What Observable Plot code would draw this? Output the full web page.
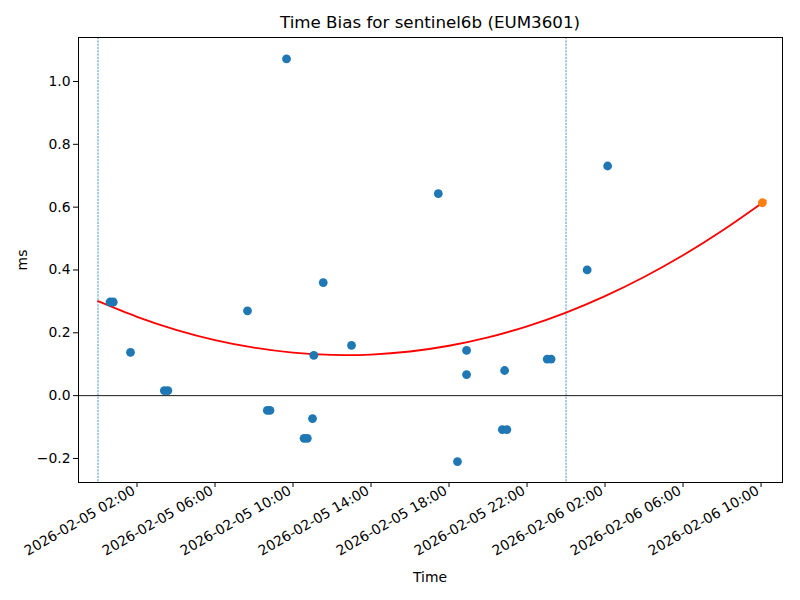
<!DOCTYPE html>
<html><head><meta charset="utf-8">
<script src="https://cdn.jsdelivr.net/npm/d3@7"></script>
<script src="https://cdn.jsdelivr.net/npm/@observablehq/plot@0.6"></script>
<style>
body{margin:0;background:#fff;font-family:"DejaVu Sans",sans-serif;}
#wrap{position:relative;width:800px;height:600px;}
#chart{position:absolute;left:0;top:0;}
#title{position:absolute;left:78px;width:704px;top:12px;text-align:center;font-size:16.7px;color:#000;white-space:nowrap;}
#xlabel{position:absolute;left:78px;width:704px;top:569px;text-align:center;font-size:13.9px;color:#000;}
#ylabel{position:absolute;left:22px;top:260px;transform:translate(-50%,-50%) rotate(-90deg);font-size:13.9px;color:#000;}
</style></head>
<body>
<div id="wrap">
  <div id="chart"></div>
  <div id="title">Time Bias for sentinel6b (EUM3601)</div>
  <div id="xlabel">Time</div>
  <div id="ylabel">ms</div>
</div>
<script>
// Observed time bias (ms)
const obsTimes = [
  "2026-02-05T00:37","2026-02-05T00:47","2026-02-05T01:40","2026-02-05T03:24","2026-02-05T03:35",
  "2026-02-05T07:40","2026-02-05T08:41","2026-02-05T08:49","2026-02-05T09:40","2026-02-05T10:34",
  "2026-02-05T10:44","2026-02-05T11:00","2026-02-05T11:04","2026-02-05T11:33","2026-02-05T13:00",
  "2026-02-05T17:27","2026-02-05T18:54","2026-02-05T18:54","2026-02-05T18:26","2026-02-05T20:51",
  "2026-02-05T20:44","2026-02-05T20:58","2026-02-05T23:02","2026-02-05T23:14","2026-02-06T01:05",
  "2026-02-06T02:08"
];
const obsBias = [
  0.298, 0.298, 0.138, 0.016, 0.016,
  0.270, -0.047, -0.047, 1.072, -0.136,
  -0.136, -0.073, 0.128, 0.360, 0.160,
  0.643, 0.144, 0.067, -0.210, 0.080,
  -0.108, -0.108, 0.1165, 0.1165, 0.400,
  0.731
];
// Predicted point
const predTimes = ["2026-02-06T10:04"];
const predBias = [0.614];
// Fitted curve
const fitTimes = [
  "2026-02-05T00:00","2026-02-05T02:00","2026-02-05T04:00","2026-02-05T06:00","2026-02-05T08:00",
  "2026-02-05T10:00","2026-02-05T12:00","2026-02-05T14:00","2026-02-05T16:00","2026-02-05T18:00",
  "2026-02-05T20:00","2026-02-05T22:00","2026-02-06T00:00","2026-02-06T02:00","2026-02-06T04:00",
  "2026-02-06T06:00","2026-02-06T08:00","2026-02-06T10:00","2026-02-06T10:04"
];
const fitBias = [
  0.3007, 0.2509, 0.2096, 0.1768, 0.1526,
  0.1368, 0.1295, 0.1308, 0.1405, 0.1588,
  0.1855, 0.2208, 0.2645, 0.3168, 0.3775,
  0.4468, 0.5246, 0.6109, 0.614
];
// Day boundaries
const dayLines = ["2026-02-05T00:00","2026-02-06T00:00"];
// Axis ticks
const xTicks = ["2026-02-05T02:00","2026-02-05T06:00","2026-02-05T10:00","2026-02-05T14:00",
  "2026-02-05T18:00","2026-02-05T22:00","2026-02-06T02:00","2026-02-06T06:00","2026-02-06T10:00"];
const yTicks = [-0.2, 0.0, 0.2, 0.4, 0.6, 0.8, 1.0];

const parse = s => new Date(s + ":00Z");
const obs = obsTimes.map((t, i) => ({t: parse(t), v: obsBias[i]}));
const pred = predTimes.map((t, i) => ({t: parse(t), v: predBias[i]}));
const fit = fitTimes.map((t, i) => ({t: parse(t), v: fitBias[i]}));

const chart = Plot.plot({
  width: 800, height: 600,
  marginLeft: 78, marginRight: 18, marginTop: 37, marginBottom: 118,
  style: {fontFamily: "DejaVu Sans, sans-serif", fontSize: "13.9px", color: "black", background: "white"},
  x: {type: "utc", domain: [parse("2026-02-04T23:00"), parse("2026-02-06T11:06")]},
  y: {domain: [-0.2765, 1.140]},
  marks: [
    Plot.ruleX(dayLines, {x: d => parse(d), stroke: "#1f77b4", strokeWidth: 0.8, strokeDasharray: "2.2,1.1"}),
    Plot.ruleY([0], {stroke: "black", strokeWidth: 0.9}),
    Plot.line(fit, {x: "t", y: "v", stroke: "red", strokeWidth: 1.8, curve: "natural"}),
    Plot.dot(obs, {x: "t", y: "v", r: 4.4, fill: "#1f77b4"}),
    Plot.dot(pred, {x: "t", y: "v", r: 4.4, fill: "#ff7f0e"}),
    Plot.axisX({ticks: xTicks.map(parse), tickSize: 5, text: null, label: null}),
    Plot.axisX({ticks: xTicks.map(parse), tickSize: 0, tickPadding: 7, tickFormat: d3.utcFormat("%Y-%m-%d %H:%M"), tickRotate: -30, dx: -3, label: null}),
    Plot.axisY({ticks: yTicks, tickFormat: d3.format(".1f"), tickSize: 5, tickPadding: 3, label: null}),
    Plot.frame({stroke: "black", strokeWidth: 1})
  ]
});
document.getElementById("chart").appendChild(chart);
</script>
</body></html>
